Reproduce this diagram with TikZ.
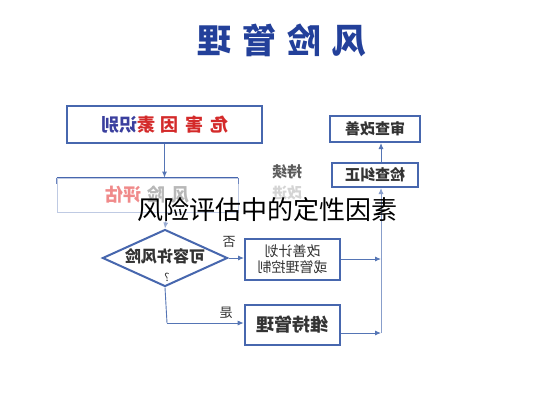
\documentclass[tikz,border=0pt]{standalone}
\usepackage{fontspec}
\newfontfamily\cjk{Noto Sans CJK SC}
\usetikzlibrary{shapes.geometric,arrows.meta}
\definecolor{bbox}{HTML}{4767AE}
\definecolor{bline}{HTML}{5575B5}
\definecolor{ttl}{HTML}{23409A}
\definecolor{hred}{HTML}{D42A2A}
\definecolor{hblue}{HTML}{3A3F9E}
\definecolor{fadered}{HTML}{F08A8A}
\definecolor{fadegray}{HTML}{B8B8B8}
\definecolor{txt}{HTML}{333333}
\tikzset{
  box/.style={draw=bbox, line width=2pt, fill=white, rectangle, inner sep=0pt, font=\cjk\bfseries, text=txt},
  conn/.style={draw=bline, line width=0.9pt, -{Latex[length=6pt,width=5pt]}},
  plain/.style={draw=bline, line width=0.9pt},
  lbl/.style={font=\cjk\bfseries, text=txt, inner sep=0pt},
}
\newcommand{\mir}[1]{\reflectbox{#1}}
\begin{document}
\begin{tikzpicture}[x=1pt,y=-1pt]
\useasboundingbox[fill=white] (0,0) rectangle (533,400);
% title
\node[font=\cjk\bfseries\fontsize{34}{34}\selectfont, text=ttl] (title) at (282,40) {\mir{风\hspace{11pt}险\hspace{11pt}管\hspace{11pt}理}};
% boxes
\node[box, minimum width=195pt, minimum height=37pt, font=\cjk\bfseries\fontsize{18}{18}\selectfont] (b1) at (164.5,124.5)
  {\mir{\textcolor{hred}{危\hspace{7pt}害\hspace{7pt}因\hspace{5pt}素}\textcolor{hblue}{识别}}};
\node[draw=bbox!35, line width=0.8pt, rectangle, minimum width=181pt, minimum height=34pt, inner sep=0pt, font=\cjk\bfseries\fontsize{18}{18}\selectfont] (b2) at (147.5,195)
  {\mir{\textcolor{fadegray}{风\hspace{6pt}险}\hspace{6pt}\textcolor{fadered}{评估}}};
\draw[bbox, line width=1.6pt] (b2.north west) -- (b2.north east);
\draw[bbox!80, line width=1.2pt] (b2.north west) -- ++(0,6) (b2.north east) -- ++(0,6);
\node[draw=bbox, line width=2pt, diamond, aspect=2.2, minimum width=125pt, minimum height=57pt, inner sep=0pt] (d) at (165,258) {};
\node[lbl, font=\cjk\bfseries\fontsize{16}{16}\selectfont] (dt) at (165,256) {\mir{可容许风险}};
\node[lbl, font=\cjk\fontsize{11}{11}\selectfont] (dq) at (167,277) {\mir{?}};
\node[box, minimum width=95pt, minimum height=41pt, font=\cjk\fontsize{14}{16}\selectfont, align=center] (b3) at (292.5,259.5)
  {\mir{改善计划}\\[0pt]\mir{或管理控制}};
\node[box, line width=2.6pt, minimum width=95pt, minimum height=40pt, font=\cjk\bfseries\fontsize{18}{18}\selectfont] (b4) at (292.5,325) {\mir{维持管理}};
\node[box, minimum width=86pt, minimum height=24pt, font=\cjk\bfseries\fontsize{15}{15}\selectfont] (b5) at (375,175) {\mir{检查纠正}};
\node[box, minimum width=90pt, minimum height=26pt, font=\cjk\bfseries\fontsize{15}{15}\selectfont] (b6) at (375,129) {\mir{审查改善}};
% labels
\node[lbl, font=\cjk\fontsize{13}{13}\selectfont] (no) at (229,242) {\mir{否}};
\node[lbl, font=\cjk\fontsize{13}{13}\selectfont] (yes) at (226,313) {\mir{是}};
\node[lbl, font=\cjk\bfseries\fontsize{15}{15}\selectfont, text=txt!80] (cx) at (287,172) {\mir{持续}};
\node[lbl, font=\cjk\bfseries\fontsize{15}{15}\selectfont, text=fadegray!60] (gj) at (287,193) {\mir{改进}};
% coordinates
\coordinate (vb) at (381,333);
\coordinate (v1) at (381,259);
\coordinate (c1) at (167,323);
% connectors
\draw[conn] (b1.south) -- (b1.south |- b2.north);
\draw[conn, draw=bline!60] (167,212) -- (d.north);
\draw[conn] (d.east) -- (d.east -| b3.west);
\draw[conn] (b3.east |- v1) -- (v1);
\draw[plain] (d.south) -- (c1);
\draw[conn] (c1) -- (c1 -| b4.west);
\draw[conn] (b4.east |- vb) -- (vb);
\draw[conn, draw=bline!70] (vb) -- (vb |- b5.south);
\draw[conn] (b5.north -| vb) -- (vb |- b6.south);
% overlay caption
\node[font=\cjk\fontsize{26}{26}\selectfont, text=black, inner sep=0pt] (cap) at (267,210) {风险评估中的定性因素};
\end{tikzpicture}
\end{document}
